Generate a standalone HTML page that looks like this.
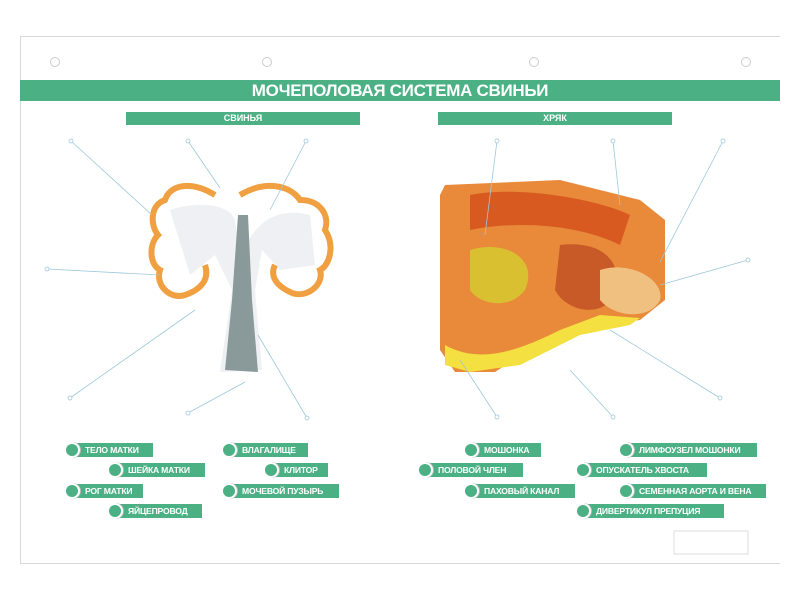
<!DOCTYPE html>
<html><head><meta charset="utf-8"><style>
body{margin:0;width:800px;height:600px;background:#fff;position:relative;overflow:hidden;font-family:"Liberation Sans","DejaVu Sans",sans-serif}
.panel{position:absolute;left:20px;top:36px;width:759px;height:526px;border:1px solid #d8d8d8;border-right:none}
.title{position:absolute;left:20px;top:80px;width:760px;height:21px;background:#4bb185;color:#fff;font-weight:bold;font-size:17px;line-height:21px;text-align:center;letter-spacing:-0.3px}
.sub{position:absolute;top:112px;width:234px;height:13px;background:#4bb185;color:#fff;font-weight:bold;font-size:9px;line-height:13px;text-align:center}
.lab{position:absolute;height:14px;background:#4bb185;color:#fff;font-weight:bold;font-size:8.6px;letter-spacing:-0.2px;line-height:14px;padding-left:13px;white-space:nowrap;box-sizing:border-box;overflow:visible}
.lab:before{content:"";position:absolute;left:-8px;top:-1px;width:12px;height:12px;border-radius:50%;background:#4bb185;border:2px solid #fff;box-shadow:1px 0 0 #bbb}
.hole{position:absolute;width:8px;height:8px;border-radius:50%;border:1px solid #ccc;top:57px}
</style></head><body>
<div class="panel"></div>
<div class="hole" style="left:50px"></div><div class="hole" style="left:262px"></div><div class="hole" style="left:529px"></div><div class="hole" style="left:741px"></div>
<div class="title">МОЧЕПОЛОВАЯ СИСТЕМА СВИНЬИ</div>
<div class="sub" style="left:126px">СВИНЬЯ</div>
<div class="sub" style="left:438px">ХРЯК</div>
<svg width="800" height="600" style="position:absolute;left:0;top:0">
<path d="M170 210 C200 200 230 205 235 220 L240 260 C250 230 270 205 310 215 L315 265 L280 270 L262 250 L255 290 L262 370 L220 372 L232 290 L215 255 L190 275 Z" fill="#eef0f4"/>
<g fill="none" stroke="#f0a040" stroke-width="6">
<path d="M215 195 C190 180 170 185 165 200 C150 205 150 225 158 235 C148 245 150 265 160 270 C155 285 170 300 185 295 C200 290 210 280 205 265"/>
<path d="M240 195 C265 180 290 185 300 200 C320 200 330 215 325 230 C335 245 330 265 320 270 C325 285 305 300 290 292 C275 285 270 275 275 265"/>
</g>
<path d="M238 215 L232 300 L225 370 L258 372 L252 300 L248 215 Z" fill="#8a9a9a"/>
<path d="M440 195 L445 185 L560 180 L640 200 L665 220 L665 300 L640 320 L600 325 L545 340 L495 372 L455 372 L440 350 Z" fill="#e88a3a"/>
<path d="M470 195 C520 185 600 200 630 215 L620 245 C580 225 520 220 470 230 Z" fill="#d85a20"/>
<path d="M470 250 C500 240 540 255 525 290 C510 310 480 305 470 290 Z" fill="#d8c030"/>
<path d="M560 245 C600 240 625 260 615 295 C600 320 565 310 555 290 Z" fill="#c85a28"/>
<path d="M600 270 C630 260 665 280 660 300 C650 320 615 318 600 300 Z" fill="#f0c080"/>
<path d="M445 345 C480 365 520 350 560 330 L600 315 L640 318 L630 325 L580 335 L520 365 L470 372 L445 365 Z" fill="#f4e040"/>
<g stroke="#9cc8d8" stroke-width="0.8" fill="#fff">
<line x1="71" y1="141" x2="152" y2="215"/><line x1="188" y1="141" x2="220" y2="188"/><line x1="306" y1="141" x2="270" y2="210"/><line x1="47" y1="269" x2="160" y2="275"/><line x1="70" y1="398" x2="195" y2="310"/><line x1="188" y1="413" x2="245" y2="382"/><line x1="307" y1="418" x2="258" y2="335"/>
<line x1="497" y1="141" x2="485" y2="235"/><line x1="613" y1="141" x2="620" y2="205"/><line x1="723" y1="141" x2="660" y2="262"/><line x1="748" y1="260" x2="660" y2="285"/><line x1="720" y1="398" x2="610" y2="330"/><line x1="497" y1="417" x2="460" y2="360"/><line x1="613" y1="417" x2="570" y2="370"/>
<circle cx="71" cy="141" r="2"/><circle cx="188" cy="141" r="2"/><circle cx="306" cy="141" r="2"/><circle cx="47" cy="269" r="2"/><circle cx="70" cy="398" r="2"/><circle cx="188" cy="413" r="2"/><circle cx="307" cy="418" r="2"/>
<circle cx="497" cy="141" r="2"/><circle cx="613" cy="141" r="2"/><circle cx="723" cy="141" r="2"/><circle cx="748" cy="260" r="2"/><circle cx="720" cy="398" r="2"/><circle cx="497" cy="417" r="2"/><circle cx="613" cy="417" r="2"/>
</g>
<rect x="674" y="531" width="74" height="23" fill="#fff" stroke="#ddd"/>
</svg>
<div class="lab" style="left:72px;top:443px;width:81px">ТЕЛО МАТКИ</div>
<div class="lab" style="left:115px;top:463px;width:90px">ШЕЙКА МАТКИ</div>
<div class="lab" style="left:72px;top:484px;width:71px">РОГ МАТКИ</div>
<div class="lab" style="left:115px;top:504px;width:87px">ЯЙЦЕПРОВОД</div>
<div class="lab" style="left:229px;top:443px;width:79px">ВЛАГАЛИЩЕ</div>
<div class="lab" style="left:271px;top:463px;width:57px">КЛИТОР</div>
<div class="lab" style="left:229px;top:484px;width:110px">МОЧЕВОЙ ПУЗЫРЬ</div>
<div class="lab" style="left:471px;top:443px;width:70px">МОШОНКА</div>
<div class="lab" style="left:425px;top:463px;width:98px">ПОЛОВОЙ ЧЛЕН</div>
<div class="lab" style="left:471px;top:484px;width:104px">ПАХОВЫЙ КАНАЛ</div>
<div class="lab" style="left:626px;top:443px;width:131px">ЛИМФОУЗЕЛ МОШОНКИ</div>
<div class="lab" style="left:583px;top:463px;width:124px">ОПУСКАТЕЛЬ ХВОСТА</div>
<div class="lab" style="left:626px;top:484px;width:140px">СЕМЕННАЯ АОРТА И ВЕНА</div>
<div class="lab" style="left:583px;top:504px;width:141px">ДИВЕРТИКУЛ ПРЕПУЦИЯ</div>
</body></html>
